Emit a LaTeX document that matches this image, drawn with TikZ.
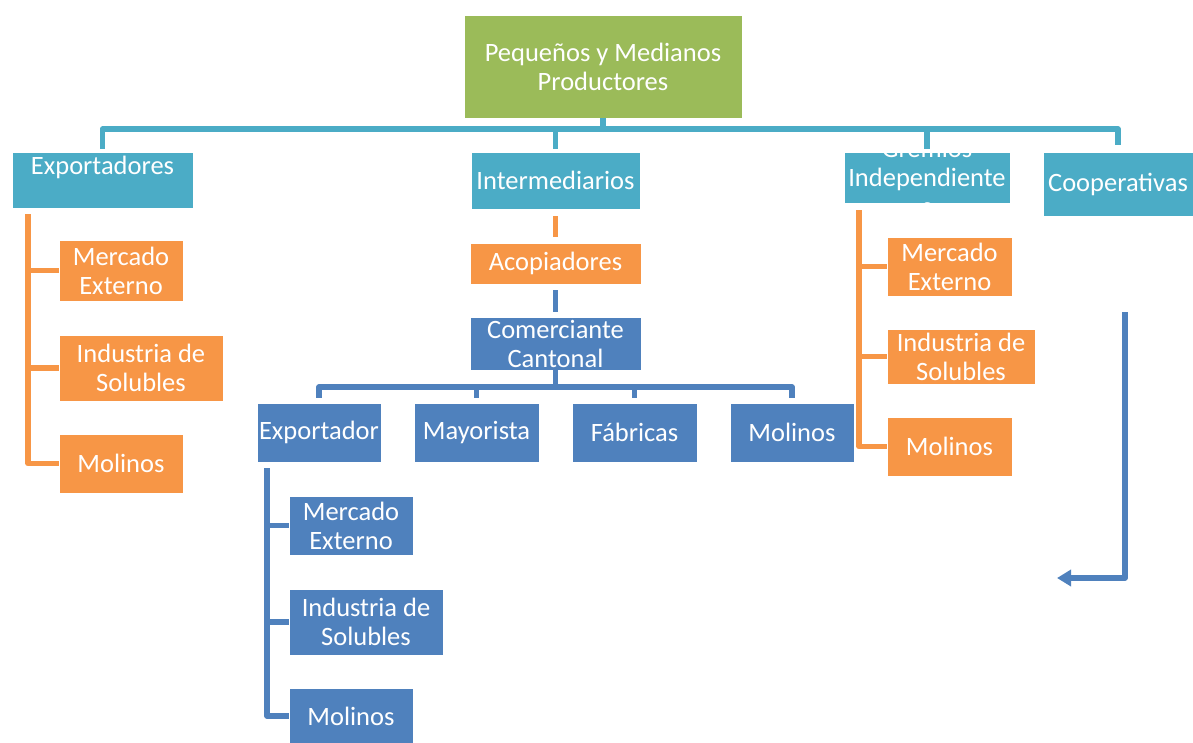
\documentclass[tikz,border=0pt]{standalone}
\usepackage{fontspec}
\setmainfont{Carlito}
\usetikzlibrary{arrows.meta}
\definecolor{cteal}{HTML}{4BACC6}
\definecolor{cgreen}{HTML}{9BBB59}
\definecolor{corange}{HTML}{F79646}
\definecolor{cblue}{HTML}{4F81BD}
\begin{document}
\begin{tikzpicture}[x=1pt,y=-1pt,
  boxtext/.style={text=white, align=center, inner sep=0pt,
    font=\fontsize{26.5}{29}\selectfont},
  box/.style={boxtext, draw=white, line width=0.8pt},
  tealbox/.style={box, fill=cteal},
  greenbox/.style={box, fill=cgreen},
  orangebox/.style={box, fill=corange},
  bluebox/.style={box, fill=cblue},
  wh/.style 2 args={minimum width=#1, minimum height=#2},
  conn/.style={line width=5.5pt, line join=round},
  tealline/.style={conn, draw=cteal},
  orangeline/.style={conn, draw=corange},
  blueline/.style={conn, draw=cblue}]
\useasboundingbox (0,0) rectangle (1193,742);
% boxes
\node[greenbox, wh={278}{103}] (top) at (603,66.5) {Pequeños y Medianos\\Productores};
\node[tealbox, wh={181}{56}] (exp) at (102.5,180) {Exportadores\\\mbox{}};
\node[tealbox, wh={169}{57}] (int) at (555.5,180.5) {Intermediarios};
\node[tealbox, wh={166}{51}] (gre) at (927,177.5) {};
\begin{scope}
\clip (800,144) rectangle (1040,205);
\node[boxtext] (gretext) at (gre.center) {Gremios\\Independiente\\s};
\end{scope}
\node[tealbox, wh={150}{64}] (coop) at (1118,184) {Cooperativas};
\node[orangebox, wh={124}{61}] (em1) at (121,270.5) {Mercado\\Externo};
\node[orangebox, wh={164}{66}] (ei1) at (141,368) {Industria de\\Solubles};
\node[orangebox, wh={124}{59}] (emo1) at (121,463.5) {Molinos};
\node[orangebox, wh={171}{41}] (aco) at (555.5,263.5) {Acopiadores};
\node[bluebox, wh={171}{53}] (com) at (555.5,343.5) {Comerciante\\Cantonal};
\node[bluebox, wh={124}{59}] (cx) at (319,432.5) {Exportador};
\node[bluebox, wh={125}{59}] (cm) at (476.5,432.5) {Mayorista};
\node[bluebox, wh={125}{59}] (cf) at (634.5,432.5) {Fábricas};
\node[bluebox, wh={124}{59}] (cmo) at (792,432.5) {Molinos};
\node[bluebox, wh={124}{59}] (bm) at (351,525.5) {Mercado\\Externo};
\node[bluebox, wh={154}{66}] (bi) at (366,622) {Industria de\\Solubles};
\node[bluebox, wh={124}{56}] (bmo) at (351,716) {Molinos};
\node[orangebox, wh={125}{59}] (gm) at (949.5,266.5) {Mercado\\Externo};
\node[orangebox, wh={148}{55}] (gi) at (961,356.5) {Industria de\\Solubles};
\node[orangebox, wh={125}{59}] (gmo) at (949.5,446.5) {Molinos};
% top bus
\coordinate (bus) at (603,129);
\draw[tealline] (top.south) -- (bus);
\draw[tealline, shorten >=3pt] (bus) -| (exp.north);
\draw[tealline, shorten >=3pt] (bus) -| (int.north);
\draw[tealline, shorten >=3pt] (bus) -| (gre.north);
\draw[tealline, shorten >=7pt] (bus) -| (coop.north);
% Exportadores children
\coordinate (ev) at (28,214);
\draw[orangeline] (ev) |- (emo1.west);
\draw[orangeline] (ev |- em1.west) -- (em1.west);
\draw[orangeline] (ev |- ei1.west) -- (ei1.west);
% Intermediarios chain
\draw[orangeline, shorten <=7pt, shorten >=6pt] (int.south) -- (aco.north);
\draw[blueline, shorten <=6pt, shorten >=5pt] (aco.south) -- (com.north);
% Comerciante bus
\coordinate (cbus) at (555.5,387);
\draw[blueline] (com.south) -- (cbus);
\draw[blueline, shorten >=5pt] (cbus) -| (cx.north);
\draw[blueline, shorten >=5pt] (cbus) -| (cm.north);
\draw[blueline, shorten >=5pt] (cbus) -| (cf.north);
\draw[blueline, shorten >=5pt] (cbus) -| (cmo.north);
% Exportador children
\coordinate (xv) at (267,468);
\draw[blueline] (xv) |- (bmo.west);
\draw[blueline] (xv |- bm.west) -- (bm.west);
\draw[blueline] (xv |- bi.west) -- (bi.west);
% Gremios children
\coordinate (gv) at (859,210);
\draw[orangeline] (gv) |- (gmo.west);
\draw[orangeline] (gv |- gm.west) -- (gm.west);
\draw[orangeline] (gv |- gi.west) -- (gi.west);
% Cooperativas arrow
\coordinate (ca) at (1125,312);
\coordinate (cb) at (1125,578);
\coordinate (cc) at (1057,578);
\draw[blueline, -{Triangle[length=14pt,width=16pt]}] (ca) -- (cb) -- (cc);
\end{tikzpicture}
\end{document}
